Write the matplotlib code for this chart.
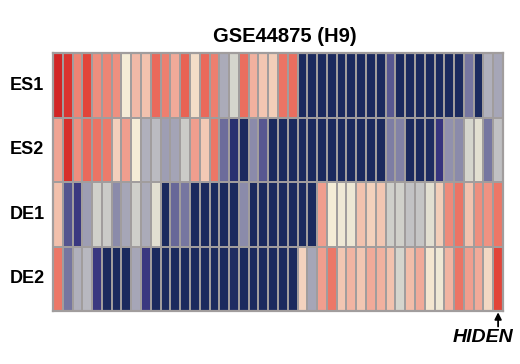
import matplotlib
matplotlib.use("Agg")
import matplotlib.pyplot as plt
import numpy as np
from matplotlib.colors import LinearSegmentedColormap

plt.rcParams["font.family"] = ["Liberation Sans", "DejaVu Sans"]

rows = ["ES1", "ES2", "DE1", "DE2"]
title = "GSE44875 (H9)"
marker_label = "HIDEN"

# relative expression, -1 (low, navy) .. 1 (high, red); 46 genes per row
es1 = [1.0, 0.92, 0.6, 0.84, 0.57, 0.6, 0.56, 0.12, 0.38, 0.34, 0.7, 0.62, 0.45,
       0.72, 0.2, 0.7, 0.62, -0.28, -0.02, 0.68, 0.42, 0.32, 0.28, 0.66, 0.68,
       -1, -1, -1, -1, -1, -1, -1, -1, -1, -0.68, -1, -1, -1, -1, -1, -1, -1,
       -0.55, -1, -0.25, -0.3]
es2 = [0.48, 0.95, 0.57, 0.7, 0.66, 0.64, 0.27, 0.5, 0.12, -0.25, -0.18, -0.35,
       -0.32, -0.08, 0.5, 0.3, 0.65, -0.6, -0.85, -0.97, -0.45, -0.68, -1, -1,
       -1, -1, -1, -1, -1, -1, -1, -1, -1, -1, -0.52, -0.5, -1, -1, -0.9, -0.82,
       -0.42, -0.45, -0.02, 0.04, -0.55, -0.15]
de1 = [0.35, -0.7, -0.8, -0.35, -0.05, -0.08, -0.45, -0.3, -0.06, -0.28, 0.04,
       -1, -0.62, -0.55, -1, -1, -1, -1, -1, -0.45, -1, -1, -1, -1, -1, -1, -1,
       0.5, 0.12, 0.1, 0.09, 0.34, 0.26, 0.32, -0.06, -0.05, -0.14, -0.12, 0.04,
       0.28, 0.58, 0.66, 0.34, 0.57, 0.55, 0.65]
de2 = [0.65, -0.55, -0.25, -0.2, -0.8, -1, -1, -1, -0.3, -0.8, -1, -1, -1, -1,
       -1, -1, -1, -1, -0.88, -1, -1, -1, -1, -1, -1, 0.25, -0.3, 0.5, 0.65,
       0.32, 0.4, 0.32, 0.45, 0.42, 0.34, -0.02, 0.36, 0.45, 0.15, 0.1, 0.4,
       0.66, 0.5, 0.45, 0.22, 0.84]

cmap = LinearSegmentedColormap.from_list("hm", [
    (0.0, "#1b2a5e"), (0.06, "#1f2c62"), (0.09, "#36347e"), (0.16, "#5a5a92"),
    (0.25, "#8282a6"), (0.375, "#b0b0bc"), (0.5, "#d8d8ce"), (0.56, "#f4ecd6"),
    (0.665, "#f2c4b0"), (0.75, "#f0a090"), (0.825, "#ec7868"), (0.91, "#e4483c"),
    (1.0, "#d22525")])

data = np.array([es1, es2, de1, de2])
ncol = data.shape[1]

fig = plt.figure(figsize=(5.2, 3.64), dpi=100)
ax = fig.add_axes([53 / 520, 53 / 364, 450 / 520, 258 / 364])
ax.pcolormesh(np.arange(ncol + 1), np.arange(len(rows) + 1), data, cmap=cmap,
              vmin=-1, vmax=1, edgecolor="#a19d9d", linewidth=1.4)
ax.set_xlim(0, ncol); ax.set_ylim(len(rows), 0)
ax.set_xticks([]); ax.set_yticks([])
for s in ax.spines.values():
    s.set_color("#a19d9d"); s.set_linewidth(1.6)

for i, r in enumerate(rows):
    ax.text(-0.058, 1 - (i + 0.5) / len(rows), r, transform=ax.transAxes,
            ha="center", va="center", fontsize=13, fontweight="bold")
fig.text(285 / 520, 1 - 37 / 364, title, ha="center", va="center", fontsize=14.5,
         fontweight="bold")

ax.annotate("", xy=(ncol - 0.5, 4.02), xytext=(ncol - 0.5, 4.24), annotation_clip=False,
            arrowprops=dict(arrowstyle="-|>", color="black", lw=1.3, mutation_scale=10,
                            shrinkA=0, shrinkB=0))
fig.text(483 / 520, 1 - 338 / 364, marker_label, ha="center", va="center",
         fontsize=14, fontweight="bold", fontstyle="italic")

fig.savefig("out.png", dpi=100, facecolor="white")
